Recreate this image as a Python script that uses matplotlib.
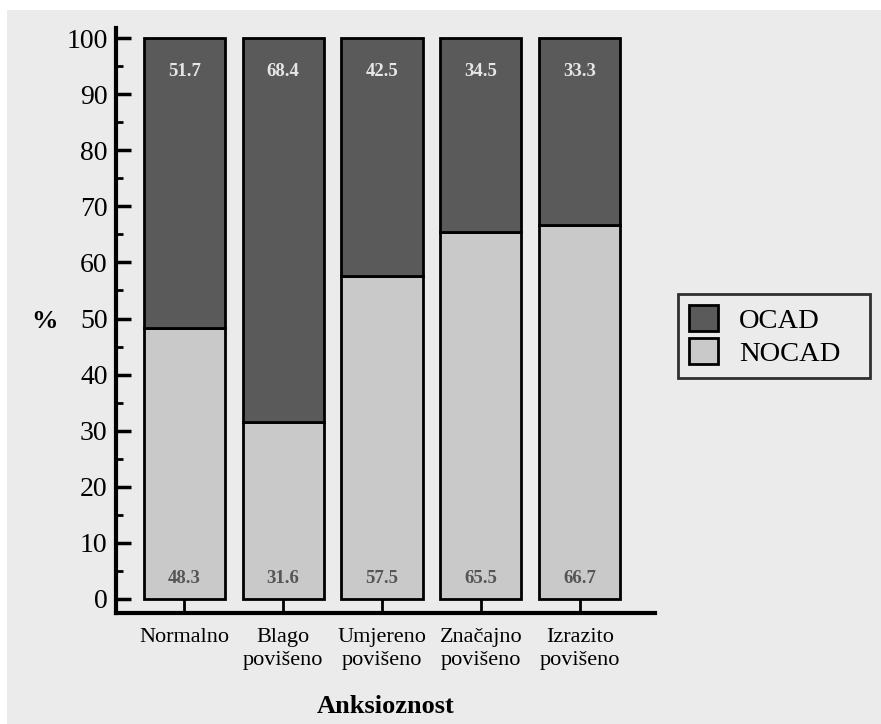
import matplotlib.pyplot as plt
from matplotlib.patches import Rectangle, Patch
import numpy as np

categories = ["Normalno", "Blago\npovišeno", "Umjereno\npovišeno", "Značajno\npovišeno", "Izrazito\npovišeno"]
ocad = [51.7, 68.4, 42.5, 34.5, 33.3]
nocad = [48.3, 31.6, 57.5, 65.5, 66.7]
yticks = list(range(0, 101, 10))

plt.rcParams['font.family'] = ['Liberation Serif', 'DejaVu Serif']

W, H = 881, 724
fig = plt.figure(figsize=(W / 100, H / 100), dpi=100, facecolor='white')
# gray panel behind everything
fig.patches.append(Rectangle((7 / W, 0), 1 - 7 / W, 1 - 10 / H, transform=fig.transFigure,
                             facecolor='#ebebeb', edgecolor='none', zorder=-10))

ax = fig.add_axes([116 / W, 1 - 613 / H, (655 - 116) / W, (613 - 28) / H])
ax.set_facecolor('none')

x = np.arange(len(categories))
dark = '#5a5a5a'
light = '#c9c9c9'
ax.bar(x, nocad, width=0.82, color=light, edgecolor='black', linewidth=2, zorder=2)
ax.bar(x, ocad, bottom=nocad, width=0.82, color=dark, edgecolor='black', linewidth=2, zorder=2)

for xi, o, n in zip(x, ocad, nocad):
    ax.text(xi, 94, f"{o}", ha='center', va='center', color='#e6e6e6',
            fontsize=13.5, fontweight='bold', zorder=3)
    ax.text(xi, 3.7, f"{n}", ha='center', va='center', color='#555555',
            fontsize=13.5, fontweight='bold', zorder=3)

ax.set_xlim(-0.69, 4.76)
ax.set_ylim(-2.5, 101.8)
ax.set_yticks(yticks)
ax.set_yticks(np.arange(5, 100, 10), minor=True)
ax.set_xticks(x)
ax.set_xticklabels(categories, fontsize=16, linespacing=1.3)
ax.tick_params(axis='y', which='major', direction='in', length=11, width=2.5, labelsize=20, pad=6)
ax.tick_params(axis='y', which='minor', direction='in', length=5, width=2)
ax.tick_params(axis='x', which='major', direction='in', length=14, width=2, pad=11)

for side in ['top', 'right']:
    ax.spines[side].set_visible(False)
for side in ['left', 'bottom']:
    ax.spines[side].set_linewidth(3)

ax.set_xlabel("Anksioznost", fontsize=19, fontweight='bold', labelpad=18)
fig.text(45 / W, 1 - 322 / H, "%", fontsize=19, fontweight='bold', ha='center', va='center')

handles = [Patch(facecolor=dark, edgecolor='black', linewidth=2, label='OCAD'),
           Patch(facecolor=light, edgecolor='black', linewidth=2, label='NOCAD')]
leg = fig.legend(handles=handles, loc='upper left',
                 bbox_to_anchor=(678 / W, 1 - 377 / H, 192 / W, 83 / H), mode='expand',
                 fontsize=20.5, frameon=True, fancybox=False, edgecolor='black',
                 handlelength=1.0, handleheight=1.0, handletextpad=0.75, borderpad=0.4,
                 labelspacing=0.15, borderaxespad=0)
leg.get_frame().set_linewidth(2)
leg.get_frame().set_facecolor('#ebebeb')

plt.savefig("out.png", dpi=100, facecolor=fig.get_facecolor())
